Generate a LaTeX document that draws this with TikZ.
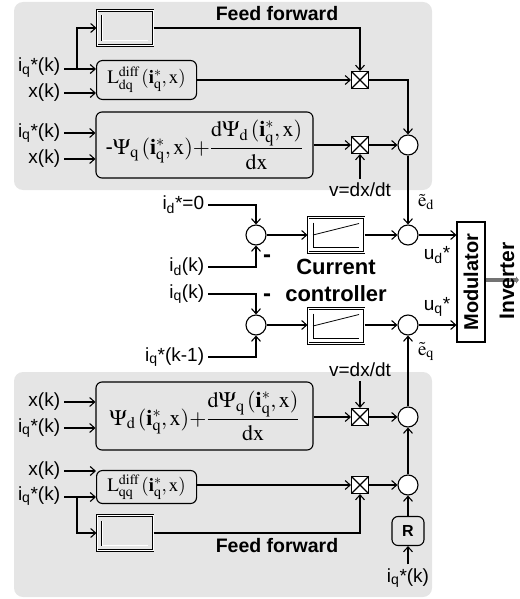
\documentclass[tikz,border=0pt]{standalone}
\usepackage{amsmath}
\usepackage{mathptmx}
\usepackage[no-math]{fontspec}
\setmainfont{Liberation Sans}
\usetikzlibrary{arrows.meta}

\begin{document}
\begin{tikzpicture}[x=1pt, y=-1pt, line width=1.1pt,
	every node/.style={font=\fontsize{19}{21}\selectfont},
	>={Straight Barb[length=5pt,width=9pt]},
	ffarea/.style={fill=black!10, rounded corners=9pt},
	fbox/.style={draw, rounded corners=6pt, inner sep=1pt},
	mult/.style={draw, fill=white, minimum size=17pt, inner sep=0pt,
		path picture={\draw (path picture bounding box.north west) -- (path picture bounding box.south east)
			(path picture bounding box.north east) -- (path picture bounding box.south west);}},
	sumnode/.style={draw, circle, fill=white, minimum size=20pt, inner sep=0pt},
	holdbox/.style={draw, double, minimum width=56pt, minimum height=35pt,
		path picture={\draw[double, line width=0.6pt] ([shift={(5pt,-5pt)}]path picture bounding box.north west)
			|- ([shift={(-5pt,5pt)}]path picture bounding box.south east);}},
	ctrlbox/.style={draw, double, minimum width=56pt, minimum height=35pt,
		path picture={\draw[line width=0.8pt] ([shift={(5pt,-5pt)}]path picture bounding box.north west)
			|- ([shift={(-5pt,5pt)}]path picture bounding box.south east);
			\draw[line width=0.8pt] ([shift={(5pt,0pt)}]path picture bounding box.west)
			-- ([shift={(-5pt,-6pt)}]path picture bounding box.north east);}},
	ffbold/.style={font=\bfseries\fontsize{19.5}{21}\selectfont},
	minus/.style={font=\bfseries\fontsize{24}{24}\selectfont}]
	\useasboundingbox (0,0) rectangle (519,599);
	% feed forward areas
	\fill[ffarea] (14,2) rectangle (432,190);
	\fill[ffarea] (14,372) rectangle (432,597);
	\node[ffbold] (fftop) at (277,14) {Feed forward};
	\node[ffbold] (ffbot) at (277,546) {Feed forward};

	% upper feed forward (d axis)
	\node[holdbox] (hold1) at (125,28) {};
	\node[fbox, anchor=west, minimum width=100pt, minimum height=39pt, font=\fontsize{19}{21}\selectfont] (ldq) at (96,80) {$\mathrm{L}^{\mathrm{diff}}_{\mathrm{dq}}\,(\mathbf{i}^*_{\mathrm{q}},\mathrm{x})$};
	\node[fbox, minimum width=217pt, minimum height=66pt, font=\fontsize{22}{24}\selectfont] (psiq) at (204.5,145) {$\text{-}\Psi_{\mathrm{q}}\,(\mathbf{i}^*_{\mathrm{q}},\mathrm{x}){+}\dfrac{\mathrm{d}\Psi_{\mathrm{d}}\,(\mathbf{i}^*_{\mathrm{q}},\mathrm{x})}{\mathrm{dx}}$};
	\node[anchor=east] (iq1) at (64,68) {i\textsubscript{q}*(k)};
	\node[anchor=east] (xk1) at (64,93) {x(k)};
	\node[anchor=east] (iq2) at (64,133) {i\textsubscript{q}*(k)};
	\node[anchor=east] (xk2) at (64,159) {x(k)};
	\coordinate (br1) at (77,69);
	\draw[->] (br1 -| iq1.east) -- (br1 -| ldq.west);
	\draw[->] (br1) |- (hold1.west);
	\draw[->] (xk1.east) -- (xk1.east -| ldq.west);
	\draw[->] (iq2.east) -- (iq2.east -| psiq.west);
	\draw[->] (xk2.east) -- (xk2.east -| psiq.west);
	\node[mult] (m1) at (360,80) {};
	\node[mult] (m2) at (360,145) {};
	\node[sumnode] (s1) at (408,145) {};
	\node (v1) at (360,190) {v=dx/dt};
	\draw[->] (hold1.east) -| (m1.north);
	\draw[->] (ldq.east) -- (m1.west);
	\draw[->] (psiq.east) -- (m2.west);
	\draw[->] (v1.north) -- (m2.south);
	\draw[->] (m1.east) -| (s1.north);
	\draw[->] (m2) -- (s1);

	% current controller
	\node[sumnode] (a1) at (256,235) {};
	\node[sumnode] (a2) at (256,325) {};
	\node[ctrlbox] (pi1) at (336,235) {};
	\node[ctrlbox] (pi2) at (336,326) {};
	\node[sumnode] (s2) at (408,235) {};
	\node[sumnode] (s3) at (408,325) {};
	\node[anchor=east] (idref) at (208,205) {i\textsubscript{d}*=0};
	\node[anchor=east] (idk) at (208,267) {i\textsubscript{d}(k)};
	\node[anchor=east] (iqk) at (208,294) {i\textsubscript{q}(k)};
	\node[anchor=east] (iqkm) at (208,357) {i\textsubscript{q}*(k-1)};
	\node[minus] (neg1) at (267,259) {-};
	\node[minus] (neg2) at (267,298) {-};
	\draw[->] (idref.east) -| (a1.north);
	\draw[->] (idk.east) -| (a1.south);
	\draw[->] (iqk.east) -| (a2.north);
	\draw[->] (iqkm.east) -| (a2.south);
	\draw[->] (a1) -- (pi1);
	\draw[->] (a2) -- (pi2.west |- a2);
	\draw[->] (pi1) -- (s2);
	\draw[->] (pi2.east |- s3) -- (s3);
	\draw[->] (s1) -- (s2);
	\node[font=\bfseries\fontsize{22}{27}\selectfont, align=center] (cc) at (336,280) {Current\\controller};
	\node (ed) at (426,202) {$\tilde{\mathrm{e}}_{\mathrm{d}}$};
	\node (eq) at (426,352) {$\tilde{\mathrm{e}}_{\mathrm{q}}$};

	% modulator
	\node[draw, minimum width=28pt, minimum height=120pt] (mod) at (471,282) {};
	\node[rotate=90, font=\bfseries\fontsize{20}{22}\selectfont] (modtxt) at (mod) {Modulator};
	\node (ud) at (437,255) {u\textsubscript{d}*};
	\node (uq) at (437,307) {u\textsubscript{q}*};
	\draw[->] (s2) -- (s2 -| mod.west);
	\draw[->] (s3) -- (s3 -| mod.west);
	\coordinate (invout) at (519,280);
	\draw[line width=4pt, black!55, -{Latex[length=3pt,width=8pt]}] (mod.east |- invout) -- (invout);
	\node[rotate=90, font=\bfseries\fontsize{21}{23}\selectfont] (inv) at (507,281) {Inverter};

	% lower feed forward (q axis)
	\node[fbox, minimum width=217pt, minimum height=68pt, font=\fontsize{22}{24}\selectfont] (psid) at (204.5,416) {$\Psi_{\mathrm{d}}\,(\mathbf{i}^*_{\mathrm{q}},\mathrm{x}){+}\dfrac{\mathrm{d}\Psi_{\mathrm{q}}\,(\mathbf{i}^*_{\mathrm{q}},\mathrm{x})}{\mathrm{dx}}$};
	\node[fbox, anchor=west, minimum width=100pt, minimum height=33pt, font=\fontsize{19}{21}\selectfont] (lqq) at (96,487) {$\mathrm{L}^{\mathrm{diff}}_{\mathrm{qq}}\,(\mathbf{i}^*_{\mathrm{q}},\mathrm{x})$};
	\node[holdbox] (hold2) at (125,533) {};
	\node[anchor=east] (xk3) at (64,402) {x(k)};
	\node[anchor=east] (iq3) at (64,428) {i\textsubscript{q}*(k)};
	\node[anchor=east] (xk4) at (64,471) {x(k)};
	\node[anchor=east] (iq4) at (64,496) {i\textsubscript{q}*(k)};
	\coordinate (br2) at (77,497);
	\draw[->] (xk3.east) -- (xk3.east -| psid.west);
	\draw[->] (iq3.east) -- (iq3.east -| psid.west);
	\draw[->] (xk4.east) -- (xk4.east -| lqq.west);
	\draw[->] (br2 -| iq4.east) -- (br2 -| lqq.west);
	\draw[->] (br2) |- (hold2.west);
	\node[mult] (m3) at (360,417) {};
	\node[mult] (m4) at (360,485) {};
	\node[sumnode] (s4) at (408,417) {};
	\node[sumnode] (s5) at (408,485) {};
	\node (v2) at (360,370) {v=dx/dt};
	\node[draw, rounded corners=6pt, minimum width=32pt, minimum height=29pt, font=\bfseries\fontsize{16}{18}\selectfont] (rb) at (408,531) {R};
	\node (iq5) at (408,578) {i\textsubscript{q}*(k)};
	\draw[->] (psid.east |- m3) -- (m3.west);
	\draw[->] (v2.south) -- (m3.north);
	\draw[->] (lqq.east |- m4) -- (m4.west);
	\draw[->] (hold2.east) -| (m4.south);
	\draw[->] (m3) -- (s4);
	\draw[->] (m4) -- (s5);
	\draw[->] (iq5.north) -- (rb.south);
	\draw[->] (rb) -- (s5);
	\draw[->] (s5) -- (s4);
	\draw[->] (s4) -- (s3);
\end{tikzpicture}
\end{document}
